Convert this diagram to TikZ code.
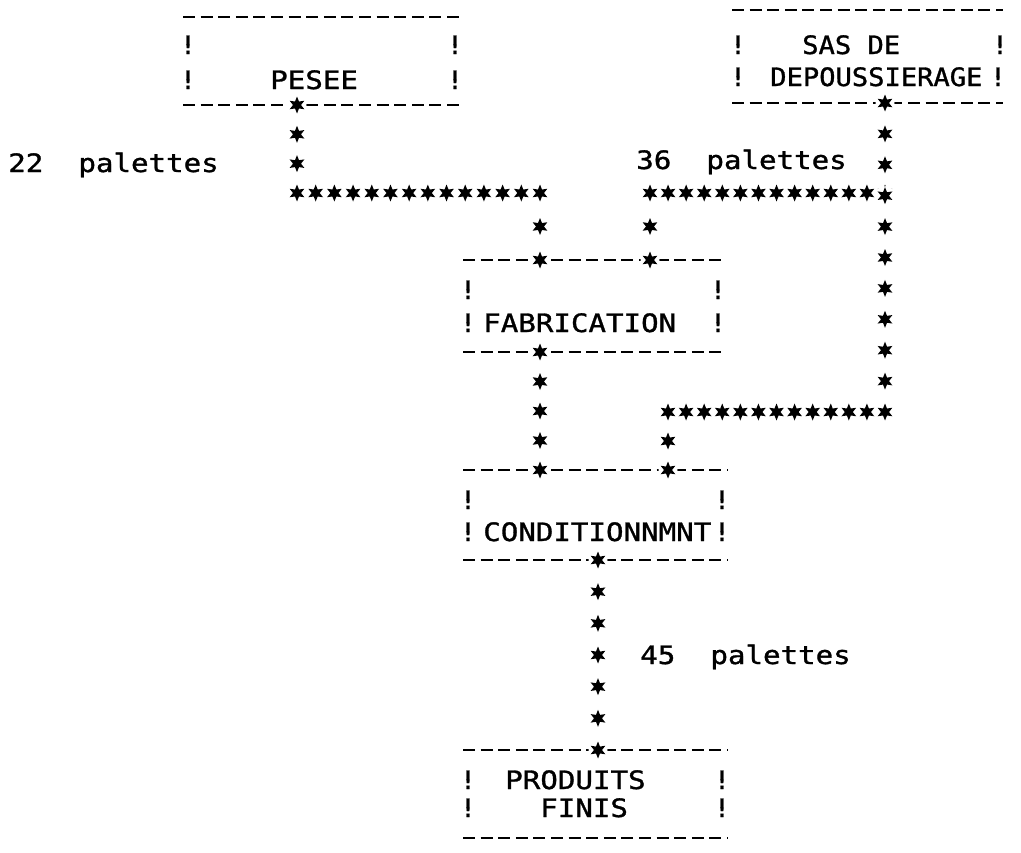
\documentclass[tikz,border=0pt]{standalone}
\usepackage{fontspec}
\newfontfamily\prt[FakeStretch=1.15,FakeBold=1.2]{DejaVu Sans Mono}
\newfontfamily\prtn[FakeStretch=1.07,FakeBold=1.2]{DejaVu Sans Mono}
\usetikzlibrary{calc}
\tikzset{
  ast/.pic={\fill[white] (0,0) circle (9.5); \fill (90:8.5) \foreach \a in {0,...,5} {-- (120+60*\a:4) -- (150+60*\a:8.5)} -- cycle;},
  frameline/.style={line width=2pt, dash pattern=on 9pt off 4.2pt},
  box/.style={inner sep=0pt, outer sep=0pt},
  txt/.style={inner sep=0pt, anchor=base west, font=\prt\fontsize{19pt}{19pt}\selectfont},
  bang/.style={inner sep=0pt, anchor=base, font=\prt\fontsize{19pt}{19pt}\selectfont}
}
\newcommand\starchain[3]{\foreach \i in {0,...,#3} \pic at ($(#1)!{\i/#3}!(#2)$) {ast};}

\begin{document}
\begin{tikzpicture}[x=0.75pt, y=-0.75pt]
\useasboundingbox (0,0) rectangle (1021,853);
\node[box, minimum width={277*0.75pt}, minimum height={88*0.75pt}] (pesee) at (321.5,61) {}; \node[box, minimum width={271*0.75pt}, minimum height={93*0.75pt}] (sas) at (867.5,56.5) {};
\node[box, minimum width={262*0.75pt}, minimum height={92*0.75pt}] (fab) at (594,306) {}; \node[box, minimum width={265*0.75pt}, minimum height={90*0.75pt}] (cond) at (595.5,515) {}; \node[box, minimum width={265*0.75pt}, minimum height={88*0.75pt}] (prod) at (595.5,794) {};
\foreach \b in {pesee,sas,fab,cond,prod} \draw[frameline] (\b.north west) -- (\b.north east) (\b.south west) -- (\b.south east);
\foreach \x/\y in {188/54,455/54,188/89,455/89, 738/54,1000/54,738/86,998/86, 468/299,718/299,468/332,718/332, 468/509,722/509,468/541,722/541, 468/789,722/789,468/817,722/817} \node[bang] at (\x,\y) {!};
\node[txt] (pesee-t) at (270,89) {PESEE}; \node[txt, font=\prtn\fontsize{19pt}{19pt}\selectfont] (sas-t1) at (802,54) {SAS DE}; \node[txt, font=\prtn\fontsize{19pt}{19pt}\selectfont] (sas-t2) at (770,86) {DEPOUSSIERAGE};
\node[txt] (fab-t) at (483,332) {FABRICATION}; \node[txt] (cond-t) at (483,541) {CONDITIONNMNT}; \node[txt] (prod-t1) at (505,789) {PRODUITS}; \node[txt] (prod-t2) at (540,817) {FINIS};
\node[txt] (q22) at (8,172) {22~~palettes}; \node[txt] (q36) at (636,169) {36~~palettes}; \node[txt] (q45) at (640,664) {45~~palettes};
\coordinate (pesee-out) at (297,105); \coordinate (jl) at (297,193); \coordinate (jm) at (540,193); \coordinate (fab-in1) at (540,260); \coordinate (fab-in2) at (650,260); \coordinate (jr) at (650,193);
\coordinate (sas-out) at (885,103); \coordinate (jc) at (885,193); \coordinate (jd) at (885,412); \coordinate (je) at (668,412); \coordinate (cond-in2) at (668,470);
\coordinate (fab-out) at (540,352); \coordinate (cond-in1) at (540,470); \coordinate (cond-out) at (598,560); \coordinate (prod-in) at (598,750);
\starchain{pesee-out}{jl}{3} \starchain{jl}{jm}{13} \starchain{jm}{fab-in1}{2} \starchain{fab-in2}{jr}{2} \starchain{jr}{jc}{13}
\starchain{sas-out}{jd}{10} \starchain{jd}{je}{12} \starchain{je}{cond-in2}{2} \starchain{fab-out}{cond-in1}{4} \starchain{cond-out}{prod-in}{6}
\end{tikzpicture}
\end{document}
